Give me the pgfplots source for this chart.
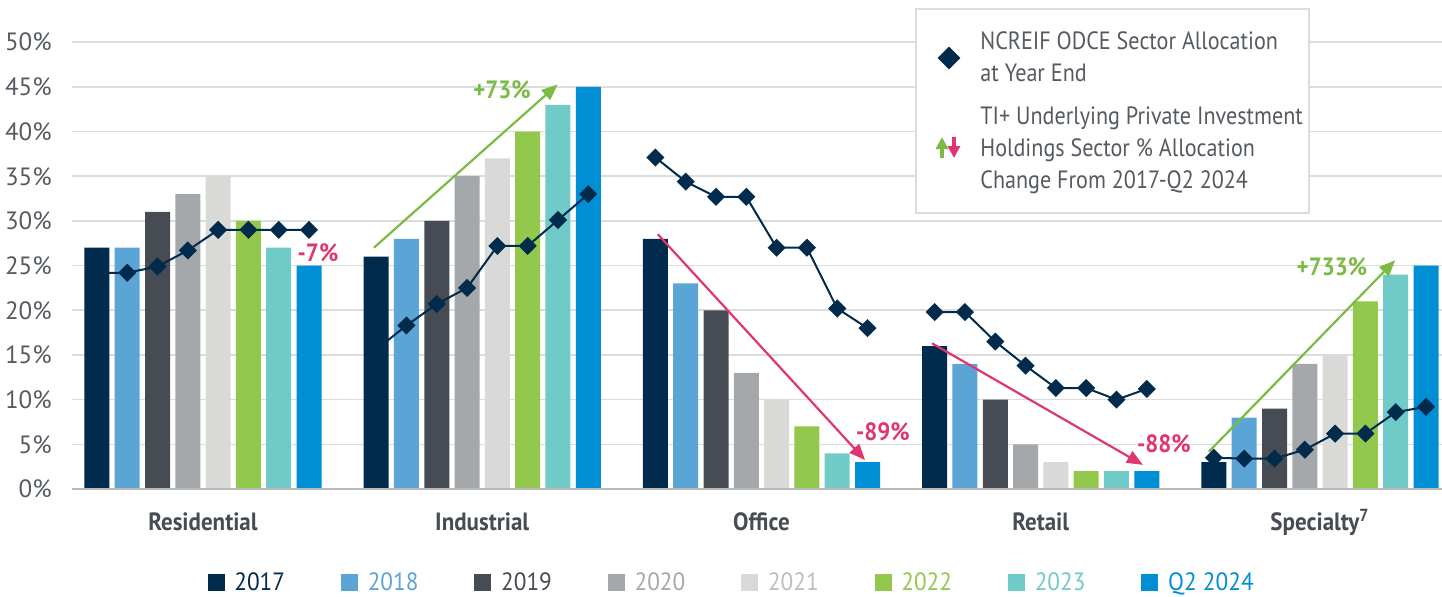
\documentclass[border=0pt]{standalone}
\usepackage{pgfplots}
\pgfplotsset{compat=1.18}
\usepackage{fontspec}
\setmainfont{PT Sans}
\newfontfamily\legfont[FakeStretch=0.885]{PT Sans}
\newfontfamily\catfont[FakeStretch=0.92]{PT Sans}
\newfontfamily\yrfont[FakeStretch=0.93]{PT Sans}
\usetikzlibrary{arrows.meta}
\definecolor{c17}{HTML}{002B4C}
\definecolor{c18}{HTML}{5BA5D6}
\definecolor{c19}{HTML}{474B53}
\definecolor{c20}{HTML}{A5A8AB}
\definecolor{c21}{HTML}{D9D9D8}
\definecolor{c22}{HTML}{92C84B}
\definecolor{c23}{HTML}{70CAC8}
\definecolor{c24}{HTML}{008FD5}
\definecolor{t21}{HTML}{BDBDBD}
\definecolor{navy}{HTML}{002B4C}
\definecolor{agreen}{HTML}{7BBA43}
\definecolor{apink}{HTML}{DF3672}
\definecolor{gridc}{HTML}{DCDCDC}
\definecolor{ticktext}{HTML}{555A60}
\definecolor{cattext}{HTML}{474C54}
\pgfplotstableread{
x y
-0.3798 24.2
-0.2713 24.2
-0.1628 24.9
-0.0543 26.7
0.0543 29.0
0.1628 29.0
0.2713 29.0
0.3798 29.0
nan nan
0.6202 15.6
0.7287 18.3
0.8372 20.7
0.9457 22.5
1.0543 27.2
1.1628 27.2
1.2713 30.1
1.3798 33.0
nan nan
1.6202 37.1
1.7287 34.4
1.8372 32.7
1.9457 32.7
2.0543 27.0
2.1628 27.0
2.2713 20.2
2.3798 18.0
nan nan
2.6202 19.8
2.7287 19.8
2.8372 16.5
2.9457 13.8
3.0543 11.3
3.1628 11.3
3.2713 10.0
3.3798 11.2
nan nan
3.6202 3.5
3.7287 3.4
3.8372 3.4
3.9457 4.4
4.0543 6.2
4.1628 6.2
4.2713 8.6
4.3798 9.2
}\odce
\begin{document}
\begin{tikzpicture}
\path[use as bounding box] (-36pt,-53.5pt) rectangle (685pt,244.5pt);
\begin{axis}[
  at={(0pt,0pt)}, anchor=south west,
  scale only axis, width=685pt, height=223.4pt,
  xmin=-0.469, xmax=4.437, ymin=0, ymax=50,
  clip=false,
  axis line style={draw=none},
  major tick length=0pt,
  ytick={0,5,...,50},
  yticklabel={\pgfmathprintnumber{\tick}\%},
  /pgf/number format/assume math mode=true,
  yticklabel style={anchor=east, inner sep=0pt, xshift=-10pt, font=\fontsize{12.5}{14}\selectfont, text=ticktext},
  ymajorgrids, grid style={draw=gridc, line width=0.8pt},
  xtick={0,1,2,3,4},
  xticklabels={Residential,Industrial,Office,Retail,Specialty\textsuperscript{7}},
  xticklabel style={anchor=base, inner sep=0pt, yshift=-20.5pt, font=\catfont\bfseries\fontsize{12.5}{14}\selectfont, text=cattext},
  unbounded coords=jump,
]
\addplot[ybar, bar width=12.5pt, bar shift=-53.03pt, fill=c17, draw=none] coordinates {(0,27) (1,26) (2,28) (3,16) (4,3)};
\addplot[ybar, bar width=12.5pt, bar shift=-37.88pt, fill=c18, draw=none] coordinates {(0,27) (1,28) (2,23) (3,14) (4,8)};
\addplot[ybar, bar width=12.5pt, bar shift=-22.73pt, fill=c19, draw=none] coordinates {(0,31) (1,30) (2,20) (3,10) (4,9)};
\addplot[ybar, bar width=12.5pt, bar shift=-7.58pt, fill=c20, draw=none] coordinates {(0,33) (1,35) (2,13) (3,5) (4,14)};
\addplot[ybar, bar width=12.5pt, bar shift=7.58pt, fill=c21, draw=none] coordinates {(0,35) (1,37) (2,10) (3,3) (4,15)};
\addplot[ybar, bar width=12.5pt, bar shift=22.73pt, fill=c22, draw=none] coordinates {(0,30) (1,40) (2,7) (3,2) (4,21)};
\addplot[ybar, bar width=12.5pt, bar shift=37.88pt, fill=c23, draw=none] coordinates {(0,27) (1,43) (2,4) (3,2) (4,24)};
\addplot[ybar, bar width=12.5pt, bar shift=53.03pt, fill=c24, draw=none] coordinates {(0,25) (1,45) (2,3) (3,2) (4,25)};
\addplot[navy, line width=1pt, mark=square*, mark size=2.7pt, mark options={rotate=45, fill=navy, draw=navy}] table[x=x,y=y] {\odce};
\draw[gridc!85!black, line width=0.8pt] (axis cs:-0.469,0) -- (axis cs:4.437,0);
% annotations
\tikzset{annot/.style={font=\catfont\bfseries\fontsize{12.5}{14}\selectfont}}
\draw[agreen, line width=1.1pt, -{Triangle[length=8pt,width=6.5pt]}] (axis cs:0.612,27.0) -- (axis cs:1.270,45.27);
\node[annot, text=agreen] at (axis cs:1.071,44.7) {+73\%};
\draw[apink, line width=1.1pt, -{Triangle[length=8pt,width=6.5pt]}] (axis cs:1.629,28.5) -- (axis cs:2.371,3.24);
\node[annot, text=apink] at (axis cs:2.435,6.4) {-89\%};
\draw[apink, line width=1.1pt, -{Triangle[length=8pt,width=6.5pt]}] (axis cs:2.611,16.3) -- (axis cs:3.366,2.7);
\node[annot, text=apink] at (axis cs:3.441,5.1) {-88\%};
\draw[agreen, line width=1.1pt, -{Triangle[length=8pt,width=6.5pt]}] (axis cs:3.602,4.17) -- (axis cs:4.269,25.6);
\node[annot, text=agreen] at (axis cs:4.043,24.9) {+733\%};
\node[annot, text=apink] at (axis cs:0.412,26.4) {-7\%};
\end{axis}
\begin{scope}[x=0.5pt, y=-0.5pt, shift={(-36pt,244.5pt)}]
  % legend box
  \draw[gridc, line width=1pt, fill=white] (916,9) rectangle (1309,213);
  \node[fill=navy, rotate=45, minimum size=8pt, inner sep=0pt] at (949,58) {};
  \draw[agreen, line width=1.6pt, -{Triangle[length=6pt,width=6pt]}] (942,158) -- (942,137);
  \draw[apink, line width=1.6pt, -{Triangle[length=6pt,width=6pt]}] (954,137) -- (954,158);
  \begin{scope}[every node/.style={anchor=base west, inner sep=0pt, text=ticktext, font=\legfont\fontsize{12.5}{14}\selectfont}]
    \node at (980,49) {NCREIF ODCE Sector Allocation};
    \node at (980,81) {at Year End};
    \node at (980,124) {TI+ Underlying Private Investment};
    \node at (980,156) {Holdings Sector \% Allocation};
    \node at (980,188) {Change From 2017-Q2 2024};
  \end{scope}
  % bottom legend
  \foreach \i/\c/\t/\lab in {0/c17/c17/2017, 1/c18/c18/2018, 2/c19/c19/2019, 3/c20/c20/2020, 4/c21/t21/2021, 5/c22/c22/2022, 6/c23/c23/2023, 7/c24/c24/Q2 2024} {
    \fill[\c] (207.5+133.4*\i,574) rectangle ++(17,17);
    \node[anchor=base west, inner sep=0pt, text=\t, font=\yrfont\fontsize{12.5}{14}\selectfont] at (234+133.4*\i,590) {\lab};
  }
\end{scope}
\end{tikzpicture}
\end{document}
